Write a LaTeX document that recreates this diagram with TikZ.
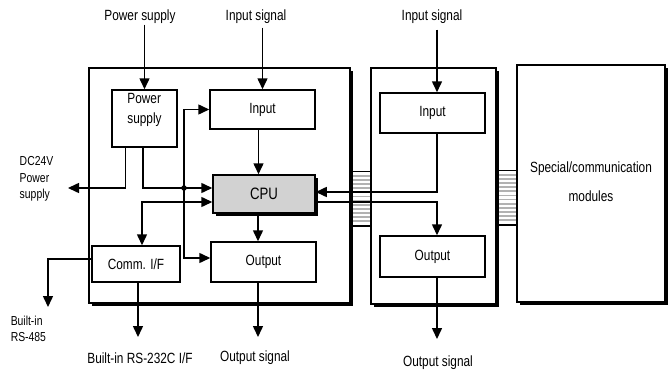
\documentclass[tikz,border=0pt]{standalone}
\usepackage{fontspec}
\setmainfont{Liberation Sans}[FakeStretch=0.8]
\usetikzlibrary{arrows.meta,calc,shadows}
\begin{document}
\begin{tikzpicture}[x=1pt,y=-1pt,
  line width=1.5pt,
  font=\fontsize{14.8}{20}\selectfont,
  box/.style={draw, fill=white, inner sep=0pt, align=center},
  sbox/.style={box, drop shadow={shadow xshift=3pt, shadow yshift=-3pt, fill=black, opacity=1}},
  arr/.style={-{Triangle[length=11pt,width=10pt]}},
  darr/.style={{Triangle[length=11pt,width=10pt]}-{Triangle[length=11pt,width=10pt]}},
  lbl/.style={inner sep=0pt, align=center},
  small/.style={font=\fontsize{13}{16.5}\selectfont, align=left, inner sep=0pt, anchor=west},
  hatch/.style={draw=none, fill=white, inner sep=0pt, minimum width=17pt, minimum height=53pt,
    path picture={\foreach \k in {1,...,12}{\draw[gray!60, line width=1.8pt]
      ($(path picture bounding box.north west)!\k/13!(path picture bounding box.south west)$) --
      ($(path picture bounding box.north east)!\k/13!(path picture bounding box.south east)$);}}},
]
\useasboundingbox (0,0) rectangle (672,375);

% bus connectors
\node[hatch] (h1) at (361.5,198.5) {};
\node[hatch] (h2) at (507.5,197.5) {};
\draw (h1.north west) -- (h1.north east) (h1.south west) -- (h1.south east);
\draw (h2.north west) -- (h2.north east) (h2.south west) -- (h2.south east);

% modules
\node[sbox, minimum width=261pt, minimum height=235pt] (main) at (219.5,185.5) {};
\node[sbox, minimum width=125pt, minimum height=236pt] (box2) at (433.5,186) {};
\node[sbox, minimum width=148pt, minimum height=237pt] (box3) at (591,183.5) {~\\[-13pt]Special/communication\\[9pt]modules};

% inner blocks
\node[box, align=left, minimum width=65pt, minimum height=57pt] (ps) at (144.5,118.5) {Power\\supply\\~};
\node[box, minimum width=105pt, minimum height=39pt] (in) at (262.5,109.5) {Input};
\node[sbox, fill=gray!35, minimum width=102pt, minimum height=38pt, font=\fontsize{16.5}{20}\selectfont] (cpu) at (264,194) {CPU};
\node[box, minimum width=105pt, minimum height=40pt] (out) at (263.5,262) {Output};
\node[box, minimum width=88pt, minimum height=36pt] (comm) at (136,264) {Comm. I/F};
\node[box, minimum width=105pt, minimum height=40pt] (in2) at (432.5,113) {Input};
\node[box, minimum width=105pt, minimum height=41pt] (out2) at (432.5,256.5) {Output};

% labels
\node[lbl] (pslbl) at (140,17) {Power supply};
\node[lbl] (inlbl) at (256,17) {Input signal};
\node[lbl] (inlbl2) at (432,17) {Input signal};
\node[small] (dc) at (19,179) {DC24V\\Power\\supply};
\node[small] (rs485) at (10,329) {Built-in\\RS-485};
\node[lbl] (rs232) at (140,358) {Built-in RS-232C I/F};
\node[lbl] (outlbl) at (255,358) {Output signal};
\node[lbl] (outlbl2) at (438,363) {Output signal};

% free ends and junction
\coordinate (dcend) at (68,188);
\coordinate (rs485end) at (48,307);
\coordinate (rs232end) at (138,337);
\coordinate (o1end) at (258,337);
\coordinate (o2end) at (437,339);
\node[circle, fill, inner sep=0pt, minimum size=5.5pt] (dot) at (184,188) {};

% connectors
\draw[arr] (pslbl.south -| ps.north) -- (ps.north);
\draw[arr] ($(inlbl.south -| in.north)+(0,3)$) -- (in.north);
\draw[arr] ($(inlbl2.south)+(5,5)$) -- ($(in2.north)+(4.5,0)$);
\draw[arr] ($(ps.south)+(-19,0)$) |- (dcend);
\draw[arr] ($(ps.south)+(-1.5,0)$) |- (dot.center) -- (cpu.west |- dot);
\draw[arr] (dot.center) |- (in.west);
\draw[arr] (dot.center) |- ($(out.west)+(0,-4)$);
\draw[darr] ($(cpu.west)+(0,8)$) -| ($(comm.north)+(6,0)$);
\draw[arr] ($(comm.west)+(0,-5)$) -| (rs485end);
\draw[arr] ($(comm.south)+(2,0)$) -- (rs232end);
\draw[arr] ($(in.south)+(-4,0)$) -- ($(cpu.north)+(-5.5,0)$);
\draw[arr] ($(cpu.south)+(-6,0)$) -- ($(out.north)+(-5.5,0)$);
\draw[arr] ($(out.south)+(-5.5,0)$) -- (o1end);
\draw[arr] ($(in2.south)+(4.5,0)$) |- ($(cpu.east)+(0,-2)$);
\draw[arr] ($(cpu.east)+(0,8)$) -| ($(out2.north)+(4.5,0)$);
\draw[arr] ($(out2.south)+(4.5,0)$) -- (o2end);
\end{tikzpicture}
\end{document}
